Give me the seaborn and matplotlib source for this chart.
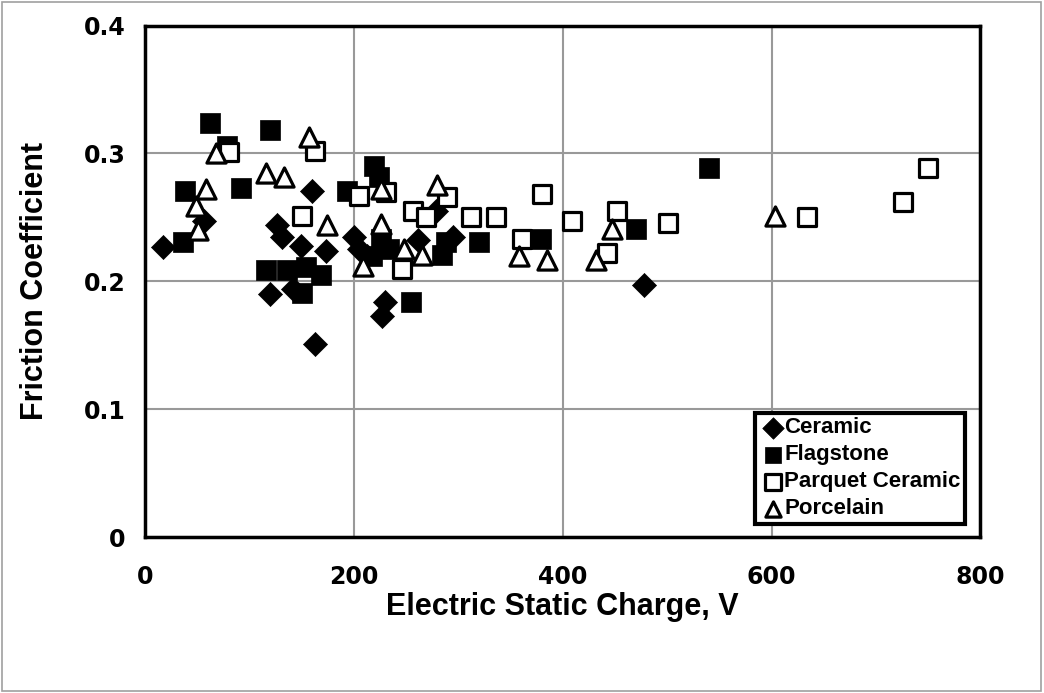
import numpy as np
import pandas as pd
import seaborn as sns
import matplotlib.pyplot as plt
from matplotlib.patches import Rectangle

# Werte
ceramic_x = [17, 56, 120, 126, 131, 142, 149, 160, 163, 173, 200, 205, 213, 227, 230, 261, 279, 295, 478]
ceramic_y = [0.227, 0.247, 0.190, 0.244, 0.235, 0.194, 0.228, 0.271, 0.151, 0.224, 0.235, 0.225, 0.220,
             0.173, 0.184, 0.232, 0.255, 0.235, 0.197]

flagstone_x = [36, 38, 62, 78, 92, 116, 120, 136, 150, 154, 168, 193, 219, 217, 224, 226, 234, 255, 284,
               288, 320, 379, 470, 540]
flagstone_y = [0.231, 0.271, 0.324, 0.306, 0.273, 0.209, 0.318, 0.209, 0.191, 0.211, 0.205, 0.271, 0.290,
               0.220, 0.282, 0.233, 0.225, 0.184, 0.221, 0.231, 0.231, 0.233, 0.241, 0.289]

parquet_x = [80, 150, 163, 205, 231, 246, 257, 269, 289, 312, 336, 361, 380, 409, 442, 452, 501, 634, 726, 750]
parquet_y = [0.301, 0.251, 0.302, 0.267, 0.270, 0.210, 0.255, 0.250, 0.266, 0.250, 0.250, 0.233, 0.268,
             0.247, 0.222, 0.255, 0.246, 0.250, 0.262, 0.289]

porcelain_x = [49, 51, 58, 68, 116, 133, 157, 174, 209, 226, 226, 248, 265, 280, 358, 385, 432, 447, 603]
porcelain_y = [0.259, 0.240, 0.272, 0.300, 0.285, 0.282, 0.313, 0.244, 0.212, 0.245, 0.272, 0.225, 0.221,
               0.275, 0.220, 0.217, 0.217, 0.241, 0.251]

x_ticks = [0, 200, 400, 600, 800]
y_ticks = [0, 0.1, 0.2, 0.3, 0.4]
y_tick_labels = ["0", "0.1", "0.2", "0.3", "0.4"]

serien = [
    ("Ceramic", ceramic_x, ceramic_y),
    ("Flagstone", flagstone_x, flagstone_y),
    ("Parquet Ceramic", parquet_x, parquet_y),
    ("Porcelain", porcelain_x, porcelain_y),
]

# Marker-Stile je Serie
stile = {
    "Ceramic": dict(marker="D", s=150, facecolor="black", edgecolor="black", linewidth=0.5),
    "Flagstone": dict(marker="s", s=210, facecolor="black", edgecolor="black", linewidth=0.5),
    "Parquet Ceramic": dict(marker="s", s=150, facecolor="white", edgecolor="black", linewidth=2.3),
    "Porcelain": dict(marker="^", s=190, facecolor="white", edgecolor="black", linewidth=2.3),
}

sns.set_style("white")
plt.rcParams["font.family"] = ["DejaVu Sans"]
plt.rcParams["text.color"] = "black"
plt.rcParams["axes.labelcolor"] = "black"
plt.rcParams["xtick.color"] = "black"
plt.rcParams["ytick.color"] = "black"
label_font = ["Liberation Sans", "DejaVu Sans"]

fig = plt.figure(figsize=(10.44, 6.93), dpi=100)
ax = fig.add_axes([0.139, 0.225, 0.800, 0.738])

for name, xs, ys in serien:
    df = pd.DataFrame({"x": xs, "y": ys})
    sns.scatterplot(data=df, x="x", y="y", ax=ax, label=name, zorder=3, **stile[name])

ax.set_xlim(0, 800)
ax.set_ylim(0, 0.4)
ax.set_xticks(x_ticks)
ax.set_yticks(y_ticks)
ax.set_yticklabels(y_tick_labels)
ax.grid(True, color="#999999", linewidth=1.5)
ax.set_axisbelow(True)
ax.tick_params(axis="x", length=0, pad=20, labelsize=17, colors="black")
ax.tick_params(axis="y", length=0, pad=14, labelsize=17, colors="black")
for lab in ax.get_xticklabels() + ax.get_yticklabels():
    lab.set_fontweight("bold")

for spine in ax.spines.values():
    spine.set_visible(True)
    spine.set_color("black")
    spine.set_linewidth(2.5)
    spine.set_zorder(5)

ax.set_xlabel("Electric Static Charge, V", fontsize=22, fontweight="bold", family=label_font,
              labelpad=2, color="black")
ax.set_ylabel("Friction Coefficient", fontsize=22, fontweight="bold", family=label_font,
              labelpad=24, color="black")

leg = ax.legend(loc="lower right", bbox_to_anchor=(0.995, 0.004), frameon=True, fancybox=False,
                borderpad=0.2, handletextpad=-0.1, labelspacing=0.27, handlelength=1.2,
                framealpha=1, prop=dict(family=label_font, weight="bold", size=16))
leg.get_frame().set_edgecolor("black")
leg.get_frame().set_linewidth(3)
for h in leg.legend_handles:
    h.set_sizes([120])

# dünner grauer Rahmen um die ganze Grafik
fig.patches.append(Rectangle((0.002, 0.003), 0.995, 0.994, transform=fig.transFigure,
                             fill=False, edgecolor="#a0a0a0", linewidth=1.2))

plt.savefig("out.png", dpi=100)
